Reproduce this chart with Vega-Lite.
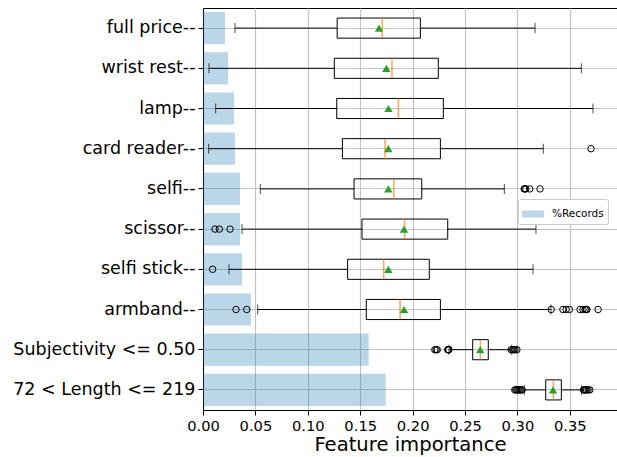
{
  "$schema": "https://vega.github.io/schema/vega-lite/v6.json",
  "width": 414,
  "height": 402,
  "autosize": {"type": "none"},
  "padding": {"left": 203, "top": 8, "right": 0, "bottom": 47},
  "background": "white",
  "datasets": {
    "bars": [
      {"feature": "full price--", "records": 0.021},
      {"feature": "wrist rest--", "records": 0.024},
      {"feature": "lamp--", "records": 0.0296},
      {"feature": "card reader--", "records": 0.0305},
      {"feature": "selfi--", "records": 0.0353},
      {"feature": "scissor--", "records": 0.0353},
      {"feature": "selfi stick--", "records": 0.0372},
      {"feature": "armband--", "records": 0.0458},
      {"feature": "Subjectivity <= 0.50", "records": 0.158},
      {"feature": "72 < Length <= 219", "records": 0.1743}
    ],
    "stats": [
      {"feature": "full price--", "lower": 0.0305, "q1": 0.128, "median": 0.171, "mean": 0.168, "q3": 0.2074, "upper": 0.3168},
      {"feature": "wrist rest--", "lower": 0.0057, "q1": 0.1253, "median": 0.1803, "mean": 0.1749, "q3": 0.2245, "upper": 0.361},
      {"feature": "lamp--", "lower": 0.0121, "q1": 0.1276, "median": 0.1864, "mean": 0.177, "q3": 0.2293, "upper": 0.3721},
      {"feature": "card reader--", "lower": 0.0054, "q1": 0.133, "median": 0.1737, "mean": 0.1768, "q3": 0.2265, "upper": 0.3247},
      {"feature": "selfi--", "lower": 0.0547, "q1": 0.1441, "median": 0.182, "mean": 0.1768, "q3": 0.2087, "upper": 0.2875},
      {"feature": "scissor--", "lower": 0.0372, "q1": 0.1517, "median": 0.1924, "mean": 0.1918, "q3": 0.2335, "upper": 0.3177},
      {"feature": "selfi stick--", "lower": 0.0248, "q1": 0.138, "median": 0.1724, "mean": 0.1768, "q3": 0.2159, "upper": 0.3149},
      {"feature": "armband--", "lower": 0.0522, "q1": 0.1558, "median": 0.188, "mean": 0.1918, "q3": 0.2265, "upper": 0.332},
      {"feature": "Subjectivity <= 0.50", "lower": 0.2347, "q1": 0.2573, "median": 0.2646, "mean": 0.2646, "q3": 0.2722, "upper": 0.2945},
      {"feature": "72 < Length <= 219", "lower": 0.3065, "q1": 0.327, "median": 0.3343, "mean": 0.334, "q3": 0.3419, "upper": 0.3613}
    ],
    "outliers": [
      {"feature": "card reader--", "value": 0.3702},
      {"feature": "selfi--", "value": 0.3065},
      {"feature": "selfi--", "value": 0.307},
      {"feature": "selfi--", "value": 0.308},
      {"feature": "selfi--", "value": 0.3117},
      {"feature": "selfi--", "value": 0.3216},
      {"feature": "scissor--", "value": 0.0115},
      {"feature": "scissor--", "value": 0.0156},
      {"feature": "scissor--", "value": 0.0258},
      {"feature": "selfi stick--", "value": 0.0092},
      {"feature": "armband--", "value": 0.0315},
      {"feature": "armband--", "value": 0.0417},
      {"feature": "armband--", "value": 0.3322},
      {"feature": "armband--", "value": 0.3434},
      {"feature": "armband--", "value": 0.3465},
      {"feature": "armband--", "value": 0.3496},
      {"feature": "armband--", "value": 0.3597},
      {"feature": "armband--", "value": 0.3625},
      {"feature": "armband--", "value": 0.3645},
      {"feature": "armband--", "value": 0.3655},
      {"feature": "armband--", "value": 0.3663},
      {"feature": "armband--", "value": 0.377},
      {"feature": "Subjectivity <= 0.50", "value": 0.2212},
      {"feature": "Subjectivity <= 0.50", "value": 0.2225},
      {"feature": "Subjectivity <= 0.50", "value": 0.2235},
      {"feature": "Subjectivity <= 0.50", "value": 0.2335},
      {"feature": "Subjectivity <= 0.50", "value": 0.234},
      {"feature": "Subjectivity <= 0.50", "value": 0.2343},
      {"feature": "Subjectivity <= 0.50", "value": 0.2345},
      {"feature": "Subjectivity <= 0.50", "value": 0.294},
      {"feature": "Subjectivity <= 0.50", "value": 0.2955},
      {"feature": "Subjectivity <= 0.50", "value": 0.2965},
      {"feature": "Subjectivity <= 0.50", "value": 0.2978},
      {"feature": "Subjectivity <= 0.50", "value": 0.2995},
      {"feature": "72 < Length <= 219", "value": 0.2975},
      {"feature": "72 < Length <= 219", "value": 0.2985},
      {"feature": "72 < Length <= 219", "value": 0.2995},
      {"feature": "72 < Length <= 219", "value": 0.3005},
      {"feature": "72 < Length <= 219", "value": 0.3015},
      {"feature": "72 < Length <= 219", "value": 0.3025},
      {"feature": "72 < Length <= 219", "value": 0.3035},
      {"feature": "72 < Length <= 219", "value": 0.3045},
      {"feature": "72 < Length <= 219", "value": 0.363},
      {"feature": "72 < Length <= 219", "value": 0.364},
      {"feature": "72 < Length <= 219", "value": 0.365},
      {"feature": "72 < Length <= 219", "value": 0.366},
      {"feature": "72 < Length <= 219", "value": 0.3675},
      {"feature": "72 < Length <= 219", "value": 0.369}
    ]
  },
  "encoding": {
    "y": {
      "field": "feature",
      "type": "nominal",
      "scale": {
        "domain": ["full price--", "wrist rest--", "lamp--", "card reader--", "selfi--", "scissor--", "selfi stick--", "armband--", "Subjectivity <= 0.50", "72 < Length <= 219"],
        "paddingInner": 0,
        "paddingOuter": 0
      },
      "axis": {
        "title": null,
        "grid": true,
        "bandPosition": 0.5,
        "labelFontSize": 17.5,
        "labelPadding": 3,
        "labelLimit": 400,
        "tickSize": 5
      }
    }
  },
  "layer": [
    {
      "data": {"name": "bars"},
      "mark": {"type": "bar", "height": {"band": 0.8}, "opacity": 0.3},
      "encoding": {
        "x": {
          "field": "records",
          "type": "quantitative",
          "scale": {"domain": [0, 0.395], "nice": false, "zero": true},
          "axis": {
            "title": "Feature importance",
            "values": [0, 0.05, 0.1, 0.15, 0.2, 0.25, 0.3, 0.35],
            "format": ".2f",
            "labelFlush": false,
            "labelFontSize": 14.7,
            "labelPadding": 3,
            "tickSize": 5,
            "titleFontSize": 19.6,
            "titleFontWeight": "normal",
            "titlePadding": 3
          }
        },
        "color": {
          "datum": "%Records",
          "type": "nominal",
          "scale": {"range": ["#1f77b4"]},
          "legend": {
            "title": null,
            "orient": "none",
            "legendX": 315,
            "legendY": 191,
            "symbolType": "M-1,-0.32H1V0.32H-1Z",
            "symbolSize": 484,
            "symbolOpacity": 0.3,
            "symbolStrokeWidth": 0,
            "labelFontSize": 10.5,
            "labelOffset": 8,
            "padding": 4,
            "strokeColor": "#cccccc",
            "fillColor": "white",
            "cornerRadius": 2
          }
        }
      }
    },
    {
      "data": {"name": "stats"},
      "mark": {"type": "rule", "color": "black", "strokeWidth": 1},
      "encoding": {"x": {"field": "lower", "type": "quantitative"}, "x2": {"field": "q1"}}
    },
    {
      "data": {"name": "stats"},
      "mark": {"type": "rule", "color": "black", "strokeWidth": 1},
      "encoding": {"x": {"field": "q3", "type": "quantitative"}, "x2": {"field": "upper"}}
    },
    {
      "data": {"name": "stats"},
      "mark": {"type": "tick", "color": "black", "size": 10, "thickness": 1},
      "encoding": {"x": {"field": "lower", "type": "quantitative"}}
    },
    {
      "data": {"name": "stats"},
      "mark": {"type": "tick", "color": "black", "size": 10, "thickness": 1},
      "encoding": {"x": {"field": "upper", "type": "quantitative"}}
    },
    {
      "data": {"name": "stats"},
      "mark": {"type": "bar", "height": {"band": 0.5}, "fill": "transparent", "stroke": "black", "strokeWidth": 1},
      "encoding": {"x": {"field": "q1", "type": "quantitative"}, "x2": {"field": "q3"}}
    },
    {
      "data": {"name": "stats"},
      "mark": {"type": "tick", "color": "#ff7f0e", "size": 20, "thickness": 1.5},
      "encoding": {"x": {"field": "median", "type": "quantitative"}}
    },
    {
      "data": {"name": "stats"},
      "mark": {"type": "point", "shape": "triangle-up", "filled": true, "color": "#2ca02c", "size": 70, "opacity": 1},
      "encoding": {"x": {"field": "mean", "type": "quantitative"}}
    },
    {
      "data": {"name": "outliers"},
      "mark": {"type": "point", "shape": "circle", "filled": false, "color": "black", "size": 42, "strokeWidth": 1, "opacity": 1},
      "encoding": {"x": {"field": "value", "type": "quantitative"}}
    }
  ],
  "config": {
    "font": "DejaVu Sans",
    "view": {"stroke": "black", "strokeWidth": 1},
    "axis": {
      "labelColor": "black",
      "titleColor": "black",
      "domainColor": "black",
      "tickColor": "black",
      "gridColor": "#c4c4c4",
      "gridWidth": 1.2,
      "labelFont": "DejaVu Sans",
      "titleFont": "DejaVu Sans"
    },
    "legend": {"labelFont": "DejaVu Sans", "labelColor": "black"}
  }
}
